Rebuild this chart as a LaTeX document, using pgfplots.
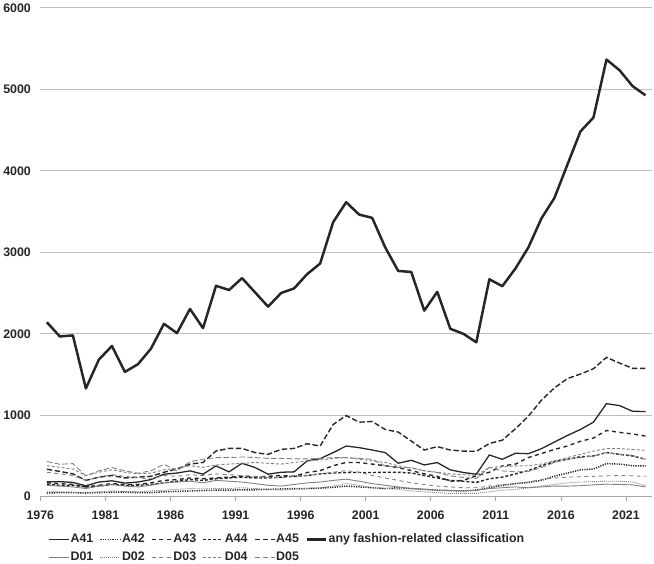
\documentclass[border=0pt]{standalone}
\usepackage{fontspec}
\setmainfont{Liberation Sans}
\usepackage{pgfplots}
\usepackage{pgfplotstable}
\pgfplotsset{compat=1.18}

\definecolor{dk}{HTML}{262626}
\definecolor{gr}{HTML}{808080}
\definecolor{gridc}{HTML}{BFBFBF}

% patents per year, by classification
\pgfplotstableread{
year main A41 A42 A43 A44 A45 D01 D02 D03 D04 D05
1976 2142 183 45 170 150 337 140 60 300 380 431
1977 1967 185 50 160 140 310 130 60 280 360 398
1978 1980 175 50 150 140 280 120 55 260 340 406
1979 1329 134 45 120 120 200 100 50 200 260 256
1980 1683 180 50 140 130 240 130 60 240 300 317
1981 1850 195 55 160 150 260 150 70 270 330 358
1982 1532 167 55 150 140 230 130 65 250 300 317
1983 1626 180 50 150 140 240 120 60 230 280 289
1984 1817 210 50 170 150 250 140 70 220 290 317
1985 2122 276 60 200 170 300 170 80 260 330 398
1986 2008 290 65 210 190 340 180 90 250 350 317
1987 2305 317 70 230 210 400 190 100 270 380 430
1988 2069 276 75 220 200 420 170 95 260 360 459
1989 2589 378 80 230 220 561 200 100 280 390 480
1990 2537 305 80 240 230 593 190 100 270 400 480
1991 2683 410 85 250 240 593 180 110 260 410 488
1992 2508 358 85 240 230 541 160 100 250 420 480
1993 2333 276 90 250 230 520 140 90 240 410 470
1994 2500 300 95 260 240 581 130 80 230 400 470
1995 2557 305 100 250 250 593 150 90 250 420 465
1996 2732 439 100 297 260 650 170 100 260 440 465
1997 2862 467 105 320 280 622 180 110 280 450 470
1998 3370 541 115 380 290 886 200 130 300 470 480
1999 3615 622 130 420 297 996 215 160 320 480 480
2000 3463 602 120 419 297 915 190 140 300 460 470
2001 3423 573 110 400 297 923 160 110 260 440 459
2002 3060 541 100 380 300 825 140 100 230 420 378
2003 2771 411 110 358 300 793 120 90 200 380 358
2004 2759 447 100 320 290 683 100 70 170 350 358
2005 2284 390 90 280 260 573 90 60 150 320 317
2006 2515 419 80 250 230 614 80 50 130 300 297
2007 2061 329 75 190 200 573 75 40 120 280 256
2008 2000 297 70 200 190 560 73 40 110 270 236
2009 1895 276 80 256 175 557 80 40 110 260 224
2010 2669 512 110 300 220 653 100 60 130 360 358
2011 2584 459 140 378 240 694 110 80 150 370 317
2012 2800 533 160 400 280 833 120 90 160 378 305
2013 3060 528 175 480 320 988 110 110 180 380 310
2014 3415 589 200 530 380 1184 120 130 210 400 358
2015 3667 671 252 580 430 1335 130 150 230 440 419
2016 4077 752 290 622 460 1450 130 170 240 480 459
2017 4484 825 330 680 490 1506 135 180 245 520 480
2018 4654 915 340 720 500 1571 145 185 250 560 500
2019 5366 1142 406 813 541 1710 154 190 256 590 541
2020 5236 1118 400 790 520 1641 150 190 260 590 520
2021 5041 1049 380 770 500 1576 145 180 256 580 508
2022 4927 1045 378 744 459 1576 120 134 250 569 459
}\fashion

\begin{document}
\begin{tikzpicture}
\begin{axis}[
    scale only axis,
    width=617pt, height=493pt,
    xmin=1975.5, xmax=2022.5,
    ymin=0, ymax=6000,
    axis lines=left,
    axis line style={-},
    y axis line style={draw=none},
    x axis line style={gr!70, line width=0.9pt},
    xtick={1975.5,1980.5,1985.5,1990.5,1995.5,2000.5,2005.5,2010.5,2015.5,2020.5},
    xticklabels={1976,1981,1986,1991,1996,2001,2006,2011,2016,2021},
    ytick={0,1000,2000,3000,4000,5000,6000},
    ymajorgrids,
    major grid style={gridc, line width=0.9pt},
    tick align=outside,
    major tick length=4pt,
    xtick style={gr!70, line width=0.8pt},
    ytick style={draw=none},
    ticklabel style={font=\bfseries\fontsize{12.5}{14}\selectfont, text=dk},
    xticklabel style={yshift=-7pt},
    yticklabel style={xshift=-2pt},
    /pgf/number format/assume math mode=true,
    /pgf/number format/1000 sep={},
    no markers,
    legend columns=6,
    legend cell align=left,
    legend image code/.code={\draw[#1] (0pt,0pt) -- (20pt,0pt);},
    legend style={
        draw=none, fill=none,
        at={(axis description cs:0,0)}, anchor=north west,
        xshift=8pt, yshift=-37pt,
        font=\bfseries\fontsize{12.5}{14}\selectfont, text=dk,
        column sep=0pt, row sep=7pt, inner sep=0pt,
        nodes={inner xsep=1pt, inner ysep=0pt, text height=9pt, text depth=2.5pt},
        /tikz/every even column/.append style={column sep=5.5pt},
    },
]
\addplot[dk, line width=1.3pt] table[x=year, y=A41] {\fashion};
\addlegendentry{A41}
\addplot[dk, line width=1.5pt, dash pattern=on 1.2pt off 1.2pt] table[x=year, y=A42] {\fashion};
\addlegendentry{A42}
\addplot[dk, line width=1.4pt, dash pattern=on 4pt off 3.5pt] table[x=year, y=A43] {\fashion};
\addlegendentry{A43}
\addplot[dk, line width=1.4pt, dash pattern=on 3pt off 2pt] table[x=year, y=A44] {\fashion};
\addlegendentry{A44}
\addplot[dk, line width=1.4pt, dash pattern=on 5.5pt off 2.5pt] table[x=year, y=A45] {\fashion};
\addlegendentry{A45}
\addplot[dk, line width=2.5pt, line join=round] table[x=year, y=main] {\fashion};
\addlegendentry{any fashion-related classification}
\addplot[gr, line width=0.9pt] table[x=year, y=D01] {\fashion};
\addlegendentry{D01}
\addplot[gr, line width=0.9pt, dash pattern=on 1pt off 1pt] table[x=year, y=D02] {\fashion};
\addlegendentry{D02}
\addplot[gr, line width=0.9pt, dash pattern=on 4pt off 3.5pt] table[x=year, y=D03] {\fashion};
\addlegendentry{D03}
\addplot[gr, line width=0.9pt, dash pattern=on 3pt off 2pt] table[x=year, y=D04] {\fashion};
\addlegendentry{D04}
\addplot[gr, line width=0.9pt, dash pattern=on 5.5pt off 2.5pt] table[x=year, y=D05] {\fashion};
\addlegendentry{D05}
\end{axis}
% pin the picture frame to the reference proportions
\path (current axis.south west) ++(-35pt,-63pt);
\path (current axis.north east) ++(2pt,8pt);
\end{tikzpicture}
\end{document}
